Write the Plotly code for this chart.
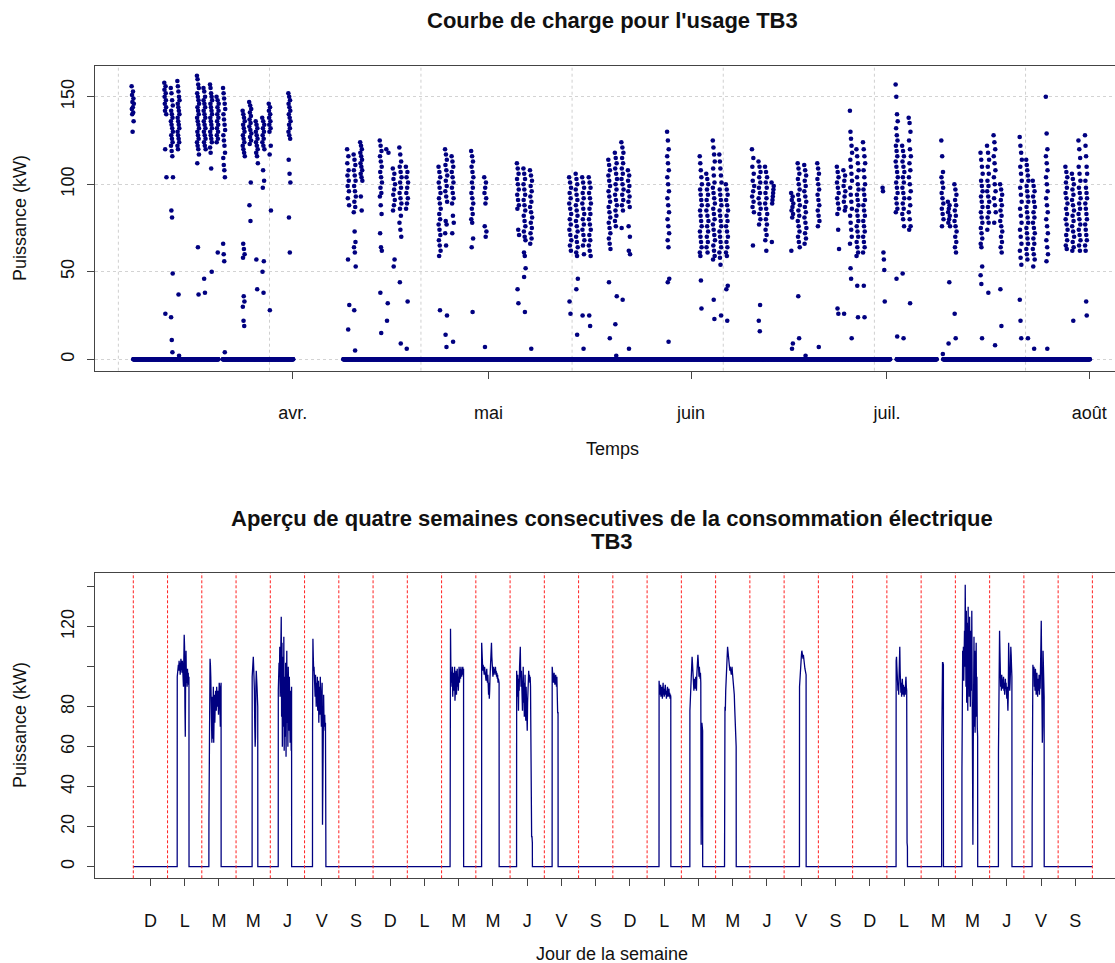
import math
import plotly.graph_objects as go
import pandas as pd

# ---------------- Top chart data (load curve, usage TB3) ----------------
zero_seg_start = ["2014-03-07 14:00", "2014-03-21 07:00", "2014-04-08 18:00", "2014-07-02 12:00", "2014-07-09 15:00"]
zero_seg_end = ["2014-03-20 15:00", "2014-04-01 02:00", "2014-07-01 12:00", "2014-07-08 15:00", "2014-08-01 02:00"]

work_days = [
    "2014-03-07", "2014-03-12", "2014-03-13", "2014-03-14", "2014-03-17", "2014-03-18", "2014-03-19",
    "2014-03-20", "2014-03-21", "2014-03-24", "2014-03-25", "2014-03-26", "2014-03-27", "2014-03-28",
    "2014-03-31", "2014-04-09", "2014-04-10", "2014-04-11", "2014-04-14", "2014-04-15", "2014-04-16",
    "2014-04-17", "2014-04-18", "2014-04-23", "2014-04-24", "2014-04-25", "2014-04-28", "2014-04-30",
    "2014-05-05", "2014-05-06", "2014-05-07", "2014-05-13", "2014-05-14", "2014-05-15", "2014-05-16",
    "2014-05-19", "2014-05-20", "2014-05-21", "2014-05-22", "2014-05-28", "2014-06-02", "2014-06-03",
    "2014-06-04", "2014-06-05", "2014-06-06", "2014-06-10", "2014-06-11", "2014-06-12", "2014-06-13",
    "2014-06-16", "2014-06-17", "2014-06-18", "2014-06-20", "2014-06-23", "2014-06-24", "2014-06-25",
    "2014-06-26", "2014-06-27", "2014-06-30", "2014-07-02", "2014-07-03", "2014-07-04", "2014-07-09",
    "2014-07-10", "2014-07-11", "2014-07-15", "2014-07-16", "2014-07-17", "2014-07-18", "2014-07-21",
    "2014-07-22", "2014-07-23", "2014-07-25", "2014-07-28", "2014-07-29", "2014-07-30", "2014-07-31",
]

day_values = [
    [156, 153, 151, 149, 147, 146, 144, 143, 141, 140, 136, 130],
    [158, 156, 154, 152, 150, 148, 146, 144, 142, 140, 120, 104, 26],
    [155, 152, 148, 145, 142, 140, 138, 136, 134, 132, 130, 128, 126, 124, 122, 119, 116, 104, 85, 81, 49, 24, 11, 4],
    [159, 156, 153, 150, 148, 146, 144, 142, 140, 138, 136, 134, 132, 130, 128, 126, 124, 122, 120, 37, 2],
    [162, 160, 157, 155, 152, 150, 148, 146, 144, 142, 140, 138, 136, 134, 132, 130, 128, 126, 124, 122, 120, 117, 112, 64, 37],
    [155, 153, 150, 148, 146, 144, 142, 140, 138, 136, 134, 132, 130, 128, 126, 124, 122, 120, 46, 38],
    [157, 155, 152, 150, 148, 146, 144, 142, 140, 138, 136, 134, 132, 130, 128, 126, 124, 121, 118, 109, 50],
    [150, 148, 146, 144, 142, 140, 138, 136, 134, 132, 130, 128, 126, 124, 61],
    [155, 152, 149, 146, 143, 140, 137, 134, 131, 128, 125, 122, 118, 115, 111, 108, 104, 66, 60, 56, 4],
    [142, 140, 138, 136, 134, 132, 130, 128, 126, 124, 122, 120, 118, 116, 66, 63, 60, 58, 36, 33, 30, 22, 19],
    [147, 145, 143, 141, 139, 137, 135, 133, 131, 129, 127, 125, 123, 101, 88, 79],
    [136, 134, 132, 130, 128, 126, 124, 122, 120, 118, 116, 112, 57, 40],
    [138, 136, 134, 132, 130, 128, 126, 124, 122, 120, 108, 102, 98, 56, 50, 38],
    [146, 144, 142, 140, 138, 136, 134, 132, 130, 122, 117, 85, 28],
    [152, 150, 148, 146, 144, 142, 140, 138, 136, 134, 132, 130, 128, 126, 114, 106, 101, 81, 61],
    [120, 116, 112, 108, 105, 102, 99, 96, 92, 88, 57, 31, 17],
    [117, 114, 111, 108, 105, 102, 99, 96, 93, 90, 87, 84, 73, 67, 64, 61, 53, 28, 5],
    [124, 122, 120, 118, 116, 114, 112, 110, 108, 106, 104, 102, 93, 85],
    [125, 122, 119, 116, 113, 110, 107, 104, 101, 98, 95, 93, 88, 83, 72, 64, 62, 38, 15],
    [120, 118, 32, 22],
    [109, 106, 103, 100, 97, 94, 91, 88, 85, 57, 53],
    [121, 117, 113, 110, 107, 104, 101, 98, 95, 92, 89, 86, 82, 78, 74, 70, 44, 9],
    [110, 107, 104, 101, 98, 95, 92, 89, 86, 33, 6],
    [110, 107, 104, 101, 98, 95, 92, 89, 86, 83, 80, 77, 74, 71, 68, 65, 62, 59, 28],
    [120, 117, 114, 111, 108, 105, 102, 99, 96, 93, 90, 79, 77, 72, 65, 25, 14, 7],
    [116, 113, 110, 107, 104, 101, 98, 95, 92, 89, 82, 78, 72, 10],
    [119, 116, 113, 110, 107, 104, 101, 98, 95, 92, 89, 86, 83, 80, 78, 69, 64, 27],
    [104, 101, 98, 95, 92, 89, 76, 73, 70, 7],
    [112, 109, 106, 103, 100, 97, 94, 91, 88, 86, 74, 71, 40, 32],
    [109, 106, 103, 100, 97, 94, 91, 88, 85, 82, 79, 76, 73, 70, 68, 61, 59, 52, 47, 27],
    [108, 105, 102, 99, 96, 93, 90, 87, 84, 81, 78, 75, 72, 69, 66, 6],
    [104, 101, 98, 95, 92, 89, 86, 83, 80, 77, 74, 71, 68, 65, 62, 33, 26],
    [106, 103, 100, 97, 94, 91, 88, 85, 82, 79, 76, 73, 70, 67, 64, 61, 59, 46, 40, 14],
    [104, 101, 98, 95, 92, 89, 86, 83, 80, 77, 74, 71, 68, 65, 60, 25, 6],
    [104, 101, 98, 95, 92, 89, 86, 83, 80, 77, 74, 71, 68, 65, 62, 59, 25, 19],
    [114, 111, 108, 105, 102, 99, 96, 93, 90, 87, 84, 81, 78, 75, 72, 69, 66, 63, 44, 12],
    [118, 115, 112, 109, 106, 103, 100, 97, 94, 91, 88, 85, 82, 79, 76, 36, 20, 2],
    [124, 121, 118, 115, 112, 109, 106, 103, 100, 97, 94, 91, 88, 85, 75, 34],
    [108, 105, 102, 99, 96, 93, 90, 87, 76, 70, 62, 60, 6],
    [130, 125, 120, 116, 112, 108, 104, 100, 96, 92, 88, 84, 80, 76, 72, 68, 64, 46, 44, 10],
    [116, 112, 108, 104, 100, 97, 94, 91, 88, 85, 82, 79, 76, 73, 70, 67, 64, 61, 59, 45, 29],
    [106, 103, 100, 97, 94, 91, 88, 85, 82, 79, 76, 73, 70, 67, 64, 61],
    [125, 121, 117, 113, 109, 105, 101, 98, 95, 92, 89, 86, 83, 80, 77, 74, 71, 68, 65, 62, 59, 57, 34, 23],
    [117, 113, 109, 105, 101, 97, 94, 91, 88, 85, 82, 79, 76, 73, 70, 67, 64, 61, 58, 54, 25],
    [100, 97, 94, 91, 88, 85, 82, 79, 76, 73, 70, 67, 64, 61, 59, 42, 40, 22],
    [120, 115, 110, 106, 102, 99, 96, 93, 90, 87, 84, 65],
    [113, 110, 107, 104, 101, 98, 95, 92, 89, 86, 83, 80, 77, 31, 22, 16],
    [110, 107, 104, 101, 98, 95, 92, 89, 86, 83, 80, 77, 74, 71, 68, 62],
    [101, 99, 97, 95, 93, 91, 89, 67],
    [95, 93, 91, 89, 87, 85, 83, 81, 62, 9, 6],
    [112, 109, 106, 103, 100, 97, 94, 91, 88, 85, 82, 79, 76, 73, 70, 67, 64, 36, 12],
    [111, 108, 105, 102, 99, 96, 93, 90, 87, 84, 81, 78, 75, 72, 69, 66, 2],
    [112, 109, 106, 103, 100, 97, 94, 91, 88, 85, 82, 79, 76, 7],
    [110, 107, 104, 101, 98, 95, 92, 89, 86, 83, 74, 63, 29, 26],
    [108, 105, 102, 99, 96, 93, 90, 87, 85, 26],
    [142, 130, 126, 122, 118, 114, 110, 106, 102, 98, 94, 90, 86, 82, 78, 74, 70, 66, 52, 46, 12],
    [120, 116, 112, 108, 104, 100, 97, 94, 91, 88, 85, 82, 79, 76, 73, 70, 67, 64, 61, 59, 42, 24],
    [124, 120, 116, 112, 108, 104, 100, 97, 94, 91, 88, 85, 82, 79, 76, 73, 70, 67, 64, 61, 42, 24],
    [98, 96, 61, 57, 51, 33],
    [157, 150, 140, 136, 132, 128, 125, 122, 119, 116, 113, 110, 107, 104, 101, 98, 95, 92, 89, 86, 84, 46, 13],
    [122, 119, 116, 113, 110, 107, 104, 101, 98, 95, 92, 89, 86, 83, 80, 76, 49, 12],
    [138, 135, 130, 125, 120, 116, 112, 108, 104, 100, 96, 92, 88, 84, 80, 76, 74, 32],
    [125, 116, 107, 104, 101, 98, 95, 92, 89, 86, 83, 80, 76, 3],
    [90, 88, 86, 84, 82, 80, 78, 76, 44, 9],
    [100, 97, 94, 91, 88, 85, 82, 79, 76, 73, 70, 67, 64, 61, 26, 12],
    [118, 114, 110, 106, 102, 99, 96, 93, 90, 87, 84, 81, 78, 75, 72, 69, 66, 64, 53, 48, 43, 12],
    [122, 118, 114, 110, 106, 102, 99, 96, 93, 90, 87, 84, 81, 78, 74, 38],
    [128, 124, 120, 116, 112, 108, 104, 100, 96, 92, 88, 84, 78, 8],
    [100, 97, 94, 91, 88, 85, 82, 79, 76, 73, 70, 67, 64, 61, 40, 19],
    [127, 122, 118, 114, 110, 106, 102, 98, 94, 90, 86, 82, 78, 74, 70, 66, 62, 58, 54, 34, 22, 12],
    [114, 111, 108, 105, 102, 99, 96, 93, 90, 87, 84, 81, 78, 75, 72, 69, 66, 63, 60, 57, 12],
    [102, 99, 96, 93, 90, 87, 84, 81, 78, 75, 72, 69, 66, 63, 60, 57, 53, 6],
    [150, 129, 120, 116, 112, 108, 104, 100, 96, 92, 88, 84, 80, 76, 72, 68, 64, 60, 56, 6],
    [110, 107, 104, 101, 98, 95, 92, 89, 86, 83, 80, 77, 74, 71, 68, 65, 63],
    [106, 103, 100, 97, 94, 91, 88, 85, 82, 79, 76, 73, 70, 67, 64, 62, 22],
    [125, 120, 115, 110, 106, 102, 98, 95, 92, 89, 86, 83, 80, 77, 74, 71, 68, 65, 62],
    [128, 122, 116, 110, 106, 102, 98, 95, 92, 89, 86, 83, 80, 77, 74, 71, 68, 65, 62, 33, 25],
]

month_ticks = ["2014-04-01", "2014-05-01", "2014-06-01", "2014-07-01", "2014-08-01"]
month_labels = ["avr.", "mai", "juin", "juil.", "août"]
grid_dates = ["2014-03-05 07:13:20", "2014-03-28 10:46:40", "2014-04-20 15:20:00", "2014-05-13 18:53:20",
              "2014-06-05 22:26:40", "2014-06-29 02:00:00", "2014-07-22 05:33:20"]

# ---------------- Bottom chart data (four consecutive weeks) ----------------
weekday_labels = ["D", "L", "M", "M", "J", "V", "S"] * 4
block_day = [1, 2, 3, 4, 5, 9, 10, 11, 12, 15, 16, 17, 19, 22, 23, 24, 25, 26]
block_start_h = [6.8, 5.0, 11.3, 5.6, 5.6, 6.0, 4.1, 4.6, 5.5, 8.4, 6.0, 6.3, 10.8, 6.5, 14.4, 4.6, 6.2, 5.8]
block_end_h = [15.0, 13.5, 15.2, 14.9, 14.9, 15.4, 16.3, 15.6, 9.6, 16.6, 14.9, 14.4, 15.4, 14.4, 15.6, 15.6, 15.6, 14.2]
block_values = [
    [95, 97, 100, 101, 98, 103, 99, 102, 96, 100, 104, 98, 101, 97, 103, 100, 95, 90, 104, 116, 110, 80, 65, 98, 108, 92, 96, 90, 99, 93, 97, 91, 95],
    [23, 60, 98, 104, 101, 95, 88, 70, 62, 85, 64, 78, 90, 62, 75, 86, 72, 80, 88, 84, 78, 90, 86, 80, 88, 83, 76, 85, 92, 90, 78, 70, 88, 92],
    [95, 98, 103, 105, 100, 96, 88, 70, 60, 65, 90, 98, 94, 90, 85, 80],
    [88, 100, 102, 95, 110, 85, 118, 92, 125, 75, 112, 60, 105, 98, 70, 115, 58, 95, 88, 65, 102, 55, 90, 108, 72, 96, 60, 100, 85, 68, 95, 78, 62, 88, 75, 58, 90],
    [68, 114, 105, 98, 100, 95, 92, 85, 96, 88, 80, 92, 84, 95, 78, 88, 93, 72, 86, 90, 76, 95, 82, 88, 70, 85, 92, 21, 80, 72, 86, 74, 70, 76, 68, 72, 16],
    [87, 119, 98, 92, 95, 90, 100, 85, 94, 97, 88, 92, 100, 83, 96, 91, 98, 86, 93, 99, 90, 95, 88, 97, 100, 92, 96, 99, 94, 100, 97, 95, 99, 98, 100, 96, 99],
    [112, 104, 100, 98, 101, 97, 99, 96, 100, 98, 95, 97, 93, 96, 99, 94, 92, 96, 90, 86, 92, 84, 88, 95, 100, 104, 108, 112, 105, 100, 97, 95, 98, 100, 96, 98, 99, 97, 100, 96, 98, 95, 97, 94, 96, 92, 94, 93, 92],
    [98, 92, 85, 96, 80, 78, 94, 88, 100, 104, 110, 96, 90, 98, 85, 94, 78, 88, 100, 82, 92, 75, 86, 96, 80, 73, 90, 85, 78, 68, 82, 92, 95, 98, 94, 96, 92, 95, 90, 40, 20, 15, 15, 12],
    [100, 96, 94, 92, 95, 97, 93, 91, 94, 96, 93, 90, 95, 78, 77, 77],
    [93, 90, 86, 88, 91, 85, 89, 87, 90, 84, 88, 92, 86, 89, 85, 90, 87, 91, 86, 88, 84, 89, 87, 90, 85, 88, 86, 89, 85, 87, 84, 86, 85],
    [78, 82, 90, 96, 100, 104, 105, 102, 95, 98, 92, 88, 94, 90, 93, 89, 95, 91, 88, 96, 100, 104, 106, 103, 98, 95, 100, 96, 94, 97, 92, 11, 60, 72, 70, 68],
    [75, 80, 78, 88, 92, 96, 98, 104, 110, 108, 106, 104, 100, 102, 98, 100, 97, 99, 96, 98, 100, 97, 95, 92, 94, 90, 86, 80, 76, 70, 65, 60],
    [90, 95, 97, 100, 104, 106, 108, 107, 105, 104, 106, 103, 101, 100, 99, 98, 97, 96],
    [103, 105, 100, 93, 90, 88, 92, 86, 95, 108, 110, 98, 90, 87, 92, 85, 90, 94, 88, 86, 91, 87, 85, 90, 88, 86, 92, 95, 90, 88, 12, 10],
    [58, 100, 102, 102, 101],
    [48, 100, 108, 96, 110, 93, 104, 118, 100, 141, 115, 90, 128, 82, 122, 100, 78, 130, 95, 112, 85, 125, 92, 80, 118, 105, 88, 128, 98, 85, 11, 60, 95, 115, 70, 108, 67, 100, 85, 112, 75, 95, 70, 65],
    [58, 90, 100, 118, 108, 95, 90, 94, 88, 96, 92, 89, 93, 90, 95, 88, 92, 86, 90, 94, 89, 92, 87, 84, 90, 82, 78, 86, 112, 105, 95, 88, 92, 98, 110, 106, 100, 95],
    [30, 100, 101, 98, 96, 100, 90, 94, 88, 99, 95, 86, 92, 97, 91, 85, 94, 88, 90, 96, 86, 92, 89, 95, 110, 123, 100, 85, 62, 70, 108, 96, 90, 85],
]
n_days = 28

# ---------------- Build point sets ----------------
top_x, top_y = [], []
for s, e in zip(zero_seg_start, zero_seg_end):
    for t in pd.date_range(s, e, freq="h"):
        top_x.append(t)
        top_y.append(0)
for d, vals in zip(work_days, day_values):
    base = pd.Timestamp(d) + pd.Timedelta(hours=8)
    n = len(vals)
    step = next(s for s in (7, 5, 3, 11, 13, 1) if math.gcd(s, n) == 1)
    for i, v in enumerate(vals):
        slot = (i * step) % n
        top_x.append(base + pd.Timedelta(hours=8.0 * slot / max(n - 1, 1)))
        top_y.append(v)

bx, by = [0.0], [0.0]
for d, h0, h1, vals in zip(block_day, block_start_h, block_end_h, block_values):
    t0 = d + h0 / 24.0
    t1 = d + h1 / 24.0
    bx.append(t0 - 0.002); by.append(0)
    n = len(vals)
    for i, v in enumerate(vals):
        bx.append(t0 + (t1 - t0) * i / (n - 1)); by.append(v)
    bx.append(t1 + 0.002); by.append(0)
bx.append(float(n_days)); by.append(0)

# ---------------- Figure ----------------
W, H = 1115, 963
NAVY = "#000080"
FONT = "Liberation Sans, Arial, Helvetica, sans-serif"
AX = "#444444"
TXT = "#111111"

def py(px):
    return 1 - px / H

fig = go.Figure()
fig.add_trace(go.Scatter(x=top_x, y=top_y, mode="markers", marker=dict(color=NAVY, size=4.6, line=dict(width=0)),
                         xaxis="x", yaxis="y", showlegend=False, hoverinfo="skip"))
fig.add_trace(go.Scatter(x=bx, y=by, mode="lines", line=dict(color=NAVY, width=1.3),
                         xaxis="x2", yaxis="y2", showlegend=False, hoverinfo="skip"))

shapes = []
for g in grid_dates:
    shapes.append(dict(type="line", xref="x", yref="y domain", x0=g, x1=g, y0=0, y1=1, layer="below",
                       line=dict(color="#cfcfcf", width=1, dash="dot")))
for k in range(n_days + 1):
    shapes.append(dict(type="line", xref="x2", yref="y2 domain", x0=k, x1=k, y0=0, y1=1, layer="above",
                       line=dict(color="#ff2020", width=1, dash="3px,2px")))

xdom = [95 / W, 1.0]
axis_common = dict(showline=True, linecolor=AX, linewidth=1, ticks="outside", ticklen=7, tickcolor=AX,
                   tickfont=dict(family=FONT, size=18, color=TXT), zeroline=False)

title_font = dict(size=22, family=FONT, color=TXT)
lab_font = dict(size=18, family=FONT, color=TXT)

fig.update_layout(
    width=W, height=H, margin=dict(l=0, r=0, t=0, b=0),
    paper_bgcolor="white", plot_bgcolor="white",
    font=dict(family=FONT, color=TXT),
    shapes=shapes,
    xaxis=dict(domain=xdom, anchor="y", type="date", range=["2014-03-01 17:22", "2014-08-04 22:19"],
               tickvals=month_ticks, ticktext=month_labels, mirror=True, showgrid=False,
               ticklabelstandoff=19, **axis_common),
    yaxis=dict(domain=[py(370.7), py(65.7)], anchor="x", range=[-6.51, 167.77], tickvals=[0, 50, 100, 150],
               tickangle=-90, showgrid=True, gridcolor="#d3d3d3", griddash="dot", gridwidth=1,
               ticklabelstandoff=6, **axis_common),
    xaxis2=dict(domain=xdom, anchor="y2", range=[-1.118, 28.66], tickvals=[k + 0.5 for k in range(n_days)],
                ticktext=weekday_labels, mirror=True, showgrid=False, ticklabelstandoff=19, **axis_common),
    yaxis2=dict(domain=[py(878.3), py(573)], anchor="x2", range=[-5.8, 146.85],
                tickvals=[0, 20, 40, 60, 80, 100, 120, 140], ticktext=["0", "20", "40", "60", "80", "", "120", ""],
                tickangle=-90, showgrid=False, ticklabelstandoff=6, **axis_common),
    annotations=[
        dict(text="<b>Courbe de charge pour l'usage TB3</b>", x=612 / W, y=py(20), xref="paper", yref="paper",
             showarrow=False, font=title_font, xanchor="center", yanchor="middle"),
        dict(text="Temps", x=612 / W, y=py(449), xref="paper", yref="paper", showarrow=False,
             font=lab_font, xanchor="center", yanchor="middle"),
        dict(text="Puissance (kW)", x=20 / W, y=py(218), xref="paper", yref="paper", showarrow=False, textangle=-90,
             font=lab_font, xanchor="center", yanchor="middle"),
        dict(text="<b>Aperçu de quatre semaines consecutives de la consommation électrique</b>", x=612 / W, y=py(518),
             xref="paper", yref="paper", showarrow=False, font=title_font, xanchor="center", yanchor="middle"),
        dict(text="<b>TB3</b>", x=612 / W, y=py(541), xref="paper", yref="paper", showarrow=False,
             font=title_font, xanchor="center", yanchor="middle"),
        dict(text="Puissance (kW)", x=20 / W, y=py(725), xref="paper", yref="paper", showarrow=False, textangle=-90,
             font=lab_font, xanchor="center", yanchor="middle"),
        dict(text="Jour de la semaine", x=612 / W, y=py(954), xref="paper", yref="paper", showarrow=False,
             font=lab_font, xanchor="center", yanchor="middle"),
    ],
)

fig.write_html("out.html", config={"displayModeBar": False},
               post_script="document.body.style.margin='0px';document.body.style.overflow='hidden';")
